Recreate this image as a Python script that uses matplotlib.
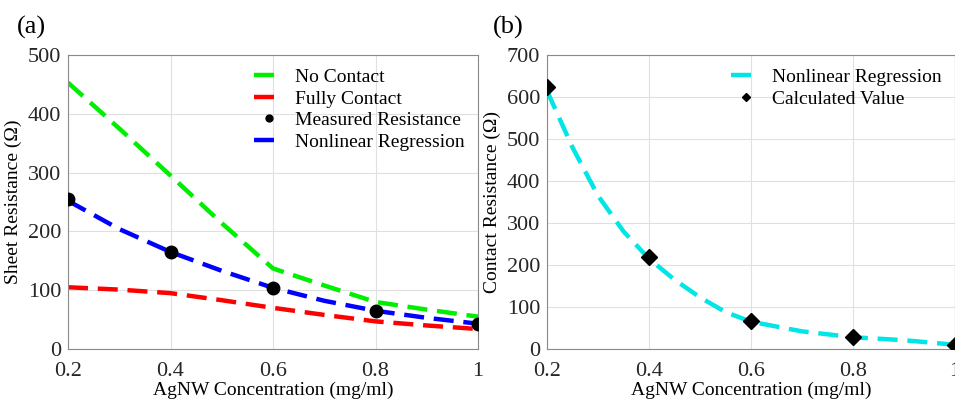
import numpy as np
import matplotlib.pyplot as plt

plt.rcParams['font.family'] = ['Liberation Serif', 'DejaVu Serif']

# panel (a)
x_a = [0.2, 0.3, 0.4, 0.5, 0.6, 0.7, 0.8, 0.9, 1.0]
no_contact = [453, 375, 295, 214, 137, 108, 80, 67, 55]
fully_contact = [105, 101, 95, 83, 70, 58, 47, 40, 34]
regression_a = [252, 204, 165, 133, 104, 82, 65, 53, 43]
x_meas = [0.2, 0.4, 0.6, 0.8, 1.0]
measured = [255, 165, 103, 65, 43]

# panel (b)
x_b = [0.2, 0.25, 0.3, 0.35, 0.4, 0.45, 0.5, 0.55, 0.6, 0.7, 0.8, 0.9, 1.0]
regression_b = [615, 480, 365, 280, 215, 165, 123, 88, 65, 42, 28, 21, 10]
x_calc = [0.2, 0.4, 0.6, 0.8, 1.0]
calculated = [625, 220, 66, 29, 10]

fig = plt.figure(figsize=(9.55, 4.03), dpi=100)
ax1 = fig.add_axes([68/955, 1-349/403, 410/955, 294/403])
ax2 = fig.add_axes([547/955, 1-349/403, 408/955, 294/403])

dash = (4.5, 2.2)
ax1.plot(x_a, no_contact, color='#00ee00', lw=3.2, dashes=dash, label='No Contact')
ax1.plot(x_a, fully_contact, color='#ff0000', lw=3.2, dashes=dash, label='Fully Contact')
ax1.plot(x_meas, measured, 'o', color='black', ms=9, label='Measured Resistance', zorder=5)
ax1.plot(x_a, regression_a, color='#0000ff', lw=3.2, dashes=dash, label='Nonlinear Regression')
ax1.set_ylim(0, 500)
ax1.set_yticks(np.arange(0, 501, 100))
ax1.set_ylabel('Sheet Resistance (Ω)', fontsize=14, labelpad=4)

ax2.plot(x_b, regression_b, color='#00e5e5', lw=3.2, dashes=dash, label='Nonlinear Regression')
ax2.plot(x_calc, calculated, 'D', color='black', ms=8, label='Calculated Value', zorder=5)
ax2.set_ylim(0, 700)
ax2.set_yticks(np.arange(0, 701, 100))
ax2.set_ylabel('Contact Resistance (Ω)', fontsize=14, labelpad=4)

for ax in (ax1, ax2):
    ax.set_xlim(0.2, 1.0)
    ax.set_xticks([0.2, 0.4, 0.6, 0.8, 1.0])
    ax.set_xticklabels(['0.2', '0.4', '0.6', '0.8', '1'])
    ax.set_xlabel('AgNW Concentration (mg/ml)', fontsize=14, labelpad=1)
    ax.grid(True, color='#e0e0e0', lw=0.8)
    ax.set_axisbelow(True)
    ax.tick_params(direction='in', labelsize=16, length=0, pad=5, colors='#262626')
    ax.tick_params(axis='x', pad=9)
    for s in ax.spines.values():
        s.set_color('#8a8a8a')
    ax.legend(loc='upper right', frameon=False, fontsize=14, markerscale=0.55,
              handlelength=1.5, handletextpad=0.6, labelspacing=0.2,
              borderaxespad=0.3)

fig.text(17/955, 1-34/403, '(a)', fontsize=19)
fig.text(493/955, 1-34/403, '(b)', fontsize=19)

fig.savefig('out.png', dpi=100)
